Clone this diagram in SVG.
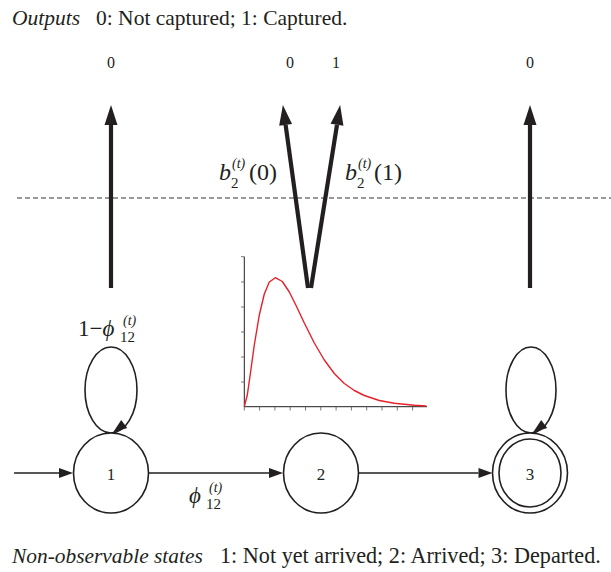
<svg xmlns="http://www.w3.org/2000/svg" width="611" height="572" viewBox="0 0 611 572">
<style>
text { font-family: "Liberation Serif", "DejaVu Serif", serif; fill: #231f20; }
.it { font-style: italic; }
.capT { font-size: 21.5px; }
.capB { font-size: 22.2px; }
.capBi { font-size: 21.4px; }
.lbl { font-size: 17px; text-anchor: middle; }
.olbl { font-size: 16px; text-anchor: middle; }
.m { font-size: 23px; }
.mb { font-size: 24px; }
.sub { font-size: 15px; }
.sup { font-size: 14px; }
.node { fill: #ffffff; stroke: #231f20; stroke-width: 1.6; }
.edge { fill: none; stroke: #231f20; stroke-width: 1.6; }
.out { fill: none; stroke: #231f20; stroke-width: 4.2; }
.head { fill: #231f20; stroke: none; }
.axis { fill: none; stroke: #231f20; stroke-width: 1; }
.tick { stroke: #555555; stroke-width: 0.8; }
.dash { stroke: #333333; stroke-width: 1; stroke-dasharray: 5 3; }
</style>
<defs>
<marker id="ahBig" markerUnits="userSpaceOnUse" markerWidth="20" markerHeight="13" viewBox="0 -6.5 20 13" refX="0" refY="0" orient="auto" overflow="visible">
<path class="head" d="M0,-6.5 L20,0 L0,6.5 z"/>
</marker>
<marker id="ahSm" markerUnits="userSpaceOnUse" markerWidth="14" markerHeight="10" viewBox="0 -5 14 10" refX="0" refY="0" orient="auto" overflow="visible">
<path class="head" d="M0,-5 L14,0 L0,5 z"/>
</marker>
</defs>

<rect x="0" y="0" width="611" height="572" fill="#ffffff"/>

<!-- captions -->
<g id="caption-top">
<text class="capT it" x="12" y="25">Outputs</text>
<text class="capT" x="96" y="25">0: Not captured; 1: Captured.</text>
</g>
<g id="caption-bottom">
<text class="capBi it" x="12" y="563">Non-observable states</text>
<text class="capB" x="220" y="563">1: Not yet arrived; 2: Arrived; 3: Departed.</text>
</g>

<!-- output labels -->
<g id="outputs">
<text class="olbl" x="111" y="68">0</text>
<text class="olbl" x="290" y="68">0</text>
<text class="olbl" x="336" y="68">1</text>
<text class="olbl" x="530" y="68">0</text>
</g>

<!-- dashed separator -->
<line class="dash" x1="17" y1="198" x2="611" y2="198"/>

<!-- emission plot -->
<g id="plot">
<path class="axis" d="M244.3,256.7 L244.3,406.7 L427,406.7"/>
<g class="tick">
<line x1="241" y1="256.7" x2="244.3" y2="256.7"/>
<line x1="241" y1="282" x2="244.3" y2="282"/>
<line x1="241" y1="307" x2="244.3" y2="307"/>
<line x1="241" y1="332" x2="244.3" y2="332"/>
<line x1="241" y1="357" x2="244.3" y2="357"/>
<line x1="241" y1="382" x2="244.3" y2="382"/>
<line x1="244.3" y1="406.7" x2="244.3" y2="410.5"/>
<line x1="259.6" y1="406.7" x2="259.6" y2="410.5"/>
<line x1="274.9" y1="406.7" x2="274.9" y2="410.5"/>
<line x1="290.2" y1="406.7" x2="290.2" y2="410.5"/>
<line x1="305.5" y1="406.7" x2="305.5" y2="410.5"/>
<line x1="320.8" y1="406.7" x2="320.8" y2="410.5"/>
<line x1="336.1" y1="406.7" x2="336.1" y2="410.5"/>
<line x1="351.4" y1="406.7" x2="351.4" y2="410.5"/>
<line x1="366.7" y1="406.7" x2="366.7" y2="410.5"/>
<line x1="382" y1="406.7" x2="382" y2="410.5"/>
<line x1="397.3" y1="406.7" x2="397.3" y2="410.5"/>
<line x1="412.6" y1="406.7" x2="412.6" y2="410.5"/>
</g>
<polyline fill="none" stroke="#e8202a" stroke-width="1.4" stroke-linejoin="round" points="244.3,406.7 247.3,395 250.3,374 254.3,345 259.3,315 264.3,294 269.3,282 275.3,277.7 282.3,281.5 289.3,292 296.3,306 304.3,323 314.3,343 324.3,360 334.3,373.5 344.3,383.5 354.3,390.5 364.3,395.5 379.3,400.5 394.3,403.3 414.3,405.3 426.3,406"/>
</g>

<!-- connectors -->
<g id="connectors">
<line class="out" x1="111" y1="288" x2="111" y2="125" marker-end="url(#ahBig)"/>
<line class="out" x1="530" y1="288" x2="530" y2="125" marker-end="url(#ahBig)"/>
<line class="out" x1="308" y1="288" x2="285.6" y2="124.8" marker-end="url(#ahBig)"/>
<line class="out" x1="311" y1="288" x2="337" y2="124.8" marker-end="url(#ahBig)"/>

<line class="edge" x1="14" y1="473" x2="59" y2="473" marker-end="url(#ahSm)"/>
<line class="edge" x1="148.5" y1="473" x2="269" y2="473" marker-end="url(#ahSm)"/>
<line class="edge" x1="358.5" y1="473" x2="478.5" y2="473" marker-end="url(#ahSm)"/>

<ellipse class="edge" cx="111" cy="390" rx="26" ry="43"/>
<polygon class="head" points="113,432.5 127.2,428.1 121.2,420.1"/>
<ellipse class="edge" cx="531" cy="390" rx="25" ry="43"/>
<polygon class="head" points="533,432.5 547.2,428.1 541.2,420.1"/>
</g>

<!-- edge labels -->
<g id="label-b0">
<text class="mb it" x="219" y="179.5">b</text>
<text class="sub" x="231" y="187.5">2</text>
<text class="sup it" x="232" y="168">(t)</text>
<text class="mb" x="249" y="179.5">(0)</text>
</g>
<g id="label-b1">
<text class="mb it" x="345" y="179.5">b</text>
<text class="sub" x="357" y="187.5">2</text>
<text class="sup it" x="358" y="168">(t)</text>
<text class="mb" x="374" y="179.5">(1)</text>
</g>
<g id="label-stay">
<text class="m" x="78" y="335.5">1−<tspan class="it">ϕ</tspan></text>
<text class="sub" x="120" y="342">12</text>
<text class="sup it" x="123" y="325">(t)</text>
</g>
<g id="label-move">
<text class="m it" x="189" y="502.5">ϕ</text>
<text class="sub" x="206" y="509">12</text>
<text class="sup it" x="209" y="492">(t)</text>
</g>

<!-- nodes -->
<g id="node1">
<ellipse class="node" cx="111" cy="473" rx="37.5" ry="40"/>
<text class="lbl" x="111" y="480">1</text>
</g>
<g id="node2">
<ellipse class="node" cx="321" cy="473" rx="37.5" ry="40"/>
<text class="lbl" x="321" y="480">2</text>
</g>
<g id="node3">
<ellipse class="node" cx="530" cy="473" rx="37.5" ry="40"/>
<ellipse class="node" cx="530" cy="473" rx="31" ry="34"/>
<text class="lbl" x="530" y="480">3</text>
</g>
</svg>
